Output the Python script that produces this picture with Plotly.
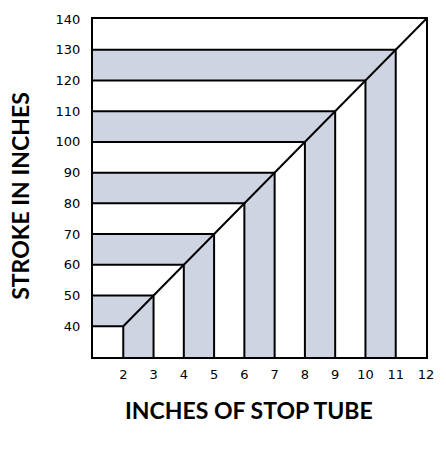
"""Stop tube chart: stroke in inches vs inches of stop tube."""

import plotly.graph_objects as go

# Stop tube length (inches) and the matching stroke (inches)
TUBE_INCHES = [2, 3, 4, 5, 6, 7, 8, 9, 10, 11, 12]
STROKE_INCHES = [40, 50, 60, 70, 80, 90, 100, 110, 120, 130, 140]
# Which band above each step is shaded
BAND_SHADED = [True, False, True, False, True, False, True, False, True, False]

X_TICKS = [2, 3, 4, 5, 6, 7, 8, 9, 10, 11, 12]
Y_TICKS = [40, 50, 60, 70, 80, 90, 100, 110, 120, 130, 140]

X_MIN, X_MAX = 1, 12
Y_MIN, Y_MAX = 30, 140

SHADE = "#CFD4E3"
INK = "#000000"

fig = go.Figure()

# Shaded L-shaped bands between consecutive steps
for i, shaded in enumerate(BAND_SHADED):
    if not shaded:
        continue
    x0, y0 = TUBE_INCHES[i], STROKE_INCHES[i]
    x1, y1 = TUBE_INCHES[i + 1], STROKE_INCHES[i + 1]
    fig.add_trace(
        go.Scatter(
            x=[X_MIN, x0, x0, x1, x1, X_MIN, X_MIN],
            y=[y0, y0, Y_MIN, Y_MIN, y1, y1, y0],
            mode="lines",
            fill="toself",
            fillcolor=SHADE,
            line={"width": 0},
            hoverinfo="skip",
            showlegend=False,
        )
    )

# Step outlines: horizontal from the left axis, vertical down to the bottom
for x, y in zip(TUBE_INCHES[:-1], STROKE_INCHES[:-1]):
    fig.add_trace(
        go.Scatter(
            x=[X_MIN, x, x],
            y=[y, y, Y_MIN],
            mode="lines",
            line={"color": INK, "width": 2},
            hoverinfo="skip",
            showlegend=False,
        )
    )

# The diagonal through the step corners
fig.add_trace(
    go.Scatter(
        x=TUBE_INCHES,
        y=STROKE_INCHES,
        mode="lines",
        line={"color": INK, "width": 2},
        showlegend=False,
        hovertemplate="%{x} in tube<br>%{y} in stroke<extra></extra>",
    )
)

title_font = {"family": "Lato", "size": 23, "color": INK}
fig.add_annotation(
    text="<b>INCHES OF STOP TUBE</b>",
    xref="paper",
    yref="paper",
    x=0.468,
    y=-0.158,
    xanchor="center",
    yanchor="middle",
    showarrow=False,
    font=title_font,
)
fig.add_annotation(
    text="<b>STROKE IN INCHES</b>",
    xref="paper",
    yref="paper",
    x=-0.218,
    y=0.478,
    xanchor="center",
    yanchor="middle",
    textangle=-90,
    borderpad=0,
    showarrow=False,
    font=title_font,
)

axis_common = {
    "showgrid": False,
    "zeroline": False,
    "showline": True,
    "mirror": True,
    "linecolor": INK,
    "linewidth": 2,
    "ticks": "",
    "tickfont": {"family": "DejaVu Sans", "size": 13, "color": INK},
    "fixedrange": True,
}

fig.update_layout(
    width=446,
    height=450,
    margin={"l": 93, "r": 13, "t": 16, "b": 93},
    paper_bgcolor="white",
    plot_bgcolor="white",
    xaxis={**axis_common, "range": [X_MIN, X_MAX], "tickvals": X_TICKS,
           "ticklabelstandoff": 4},
    yaxis={**axis_common, "range": [Y_MIN, Y_MAX], "tickvals": Y_TICKS,
           "ticklabelstandoff": 8},
)

# drop the default 8px body margin so the figure fills the window
fig.write_html(
    "out.html",
    config={"displayModeBar": False},
    post_script="document.body.style.margin = '0';",
)
